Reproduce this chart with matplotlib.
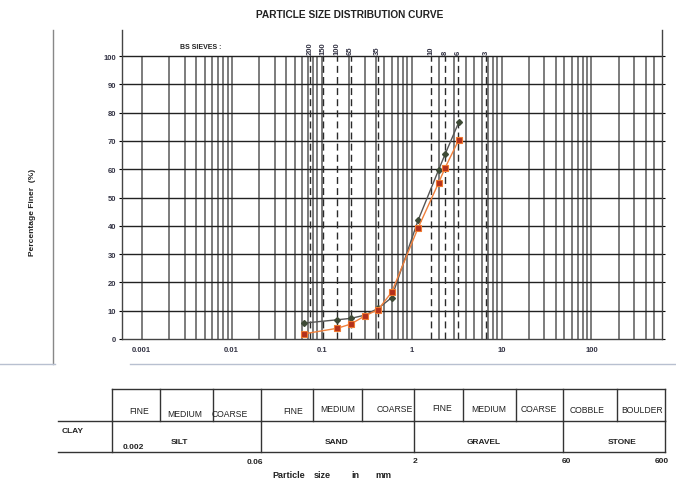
import matplotlib
matplotlib.use('Agg')
import matplotlib.pyplot as plt
import numpy as np

plt.rcParams['font.family'] = ['Liberation Sans', 'DejaVu Sans']

# sieve analysis results (particle size in mm, percentage finer)
sizes_mm = [0.063, 0.15, 0.212, 0.3, 0.425, 0.6, 1.18, 2.0, 2.36, 3.35]
sample_a = [5.6, 6.8, 7.3, 8.4, 10.8, 14.6, 41.9, 59.8, 65.3, 76.6]
sample_b = [1.8, 3.8, 5.3, 8.1, 10.4, 16.5, 39.2, 55.2, 60.5, 70.4]

# BS sieve numbers and their apertures in mm
sieve_labels = ['200', '150', '100', '65', '35', '10', '8', '6', '3']
sieve_mm = [0.075, 0.103, 0.15, 0.21, 0.42, 1.65, 2.36, 3.3, 6.7]

x_tick_values = [0.001, 0.01, 0.1, 1, 10, 100]
x_tick_labels = ['0.001', '0.01', '0.1', '1', '10', '100']
y_tick_values = list(range(0, 101, 10))

# classification table below the chart
top_row = ['FINE', 'MEDIUM', 'COARSE', 'FINE', 'MEDIUM', 'COARSE',
           'FINE', 'MEDIUM', 'COARSE', 'COBBLE', 'BOULDER']
soil_names = ['SILT', 'SAND', 'GRAVEL', 'STONE']
limit_labels = ['0.002', '0.06', '2', '60', '600']

W, H = 676, 481
fig = plt.figure(figsize=(W / 100, H / 100), dpi=100)

# main chart, positions in pixels
ax_l, ax_r, ax_t, ax_b = 121.7, 661.5, 31, 340
ax = fig.add_axes([ax_l / W, 1 - ax_b / H, (ax_r - ax_l) / W, (ax_b - ax_t) / H])
ax.set_xscale('log')
ax.set_xlim(0.0006, 600)
ax.set_ylim(0, 109.2)

# log grid
grid_x = []
for decade in [0.001, 0.01, 0.1, 1, 10, 100]:
    for m in range(1, 10):
        v = decade * m
        if v < 600:
            grid_x.append(v)
ax.vlines(grid_x, 0, 100, color='#666666', lw=1.2, zorder=1)
ax.hlines(y_tick_values[1:], 0.0006, 600, color='#222222', lw=1.0, zorder=1)
ax.vlines(sieve_mm, 0, 100, color='#2a2a2a', lw=1.0, linestyles=(0, (5, 3)), zorder=2)

for lab, v in zip(sieve_labels, sieve_mm):
    ax.text(v, 100.6, lab, rotation=90, ha='center', va='bottom', fontsize=5.5,
            fontweight='bold', color='#333344')
ax.text(0.0045, 103.5, 'BS SIEVES :', ha='center', va='center', fontsize=5,
        fontweight='bold', color='#222222')

ax.plot(sizes_mm, sample_a, color='#555555', lw=1.0, marker='D', ms=3,
        mfc='#3e4a36', mec='#3e4a36', zorder=4)
ax.plot(sizes_mm, sample_b, color='#f0803c', lw=1.0, marker='s', ms=4.2,
        mfc='#b3301c', mec='#f07a30', mew=0.8, zorder=5)

ax.spines['top'].set_visible(False)
for side in ['left', 'right', 'bottom']:
    ax.spines[side].set_color('#444444')
    ax.spines[side].set_linewidth(1.0)

ax.set_xticks(x_tick_values)
ax.set_xticklabels(x_tick_labels)
ax.xaxis.set_minor_locator(matplotlib.ticker.NullLocator())
ax.tick_params(axis='x', length=0, pad=5, labelsize=5.5, labelcolor='#333344')
for t in ax.get_xticklabels():
    t.set_fontweight('bold')
ax.set_yticks(y_tick_values)
ax.tick_params(axis='y', length=2, width=0.8, pad=2, labelsize=5.5,
               labelcolor='#333344', right=True, direction='out')
for t in ax.get_yticklabels():
    t.set_fontweight('bold')

# overlay in pixel coordinates for frame, titles and table
ov = fig.add_axes([0, 0, 1, 1], zorder=-1)
ov.set_xlim(0, W)
ov.set_ylim(H, 0)
ov.axis('off')

ov.text(350, 15, 'PARTICLE SIZE DISTRIBUTION CURVE', ha='center', va='center',
        fontsize=7.3, fontweight='bold', color='#222222')
ov.text(32, 212, 'Percentage Finer  (%)', rotation=90, ha='center', va='center',
        fontsize=6, fontweight='bold', color='#222222')
ov.plot([52.5, 52.5], [31, 365], color='#888888', lw=1.0)
ov.plot([0, 55], [365, 365], color='#b8c0d0', lw=1.0)
ov.plot([130, W], [365, 365], color='#b8c0d0', lw=1.0)

# table
tl, tr = 111.5, 665
y0, y1, y2 = 389.5, 421.7, 452.7
lc = '#333333'
ov.plot([tl, tr], [y0, y0], color=lc, lw=1.0)
ov.plot([58, tr], [y1, y1], color=lc, lw=1.0)
ov.plot([58, tr], [y2, y2], color=lc, lw=1.0)
top_div = [111.5, 160, 212.7, 260.7, 313, 361.7, 414, 462.7, 515.7, 563.3, 616.7, 665]
for xd in top_div:
    ov.plot([xd, xd], [y0, y1], color=lc, lw=1.0)
for xd in [111.5, 260.7, 414, 563.3, 665]:
    ov.plot([xd, xd], [y1, y2], color=lc, lw=1.0)

top_x = [139.3, 185, 230, 292.7, 338, 394.3, 441.7, 488.7, 539, 586.7, 641.7]
top_y = [411.5, 414.5, 414.5, 411.5, 410, 410, 408.5, 410, 410, 410.5, 410.5]
for lab, xx, yy in zip(top_row, top_x, top_y):
    ov.text(xx, yy, lab, ha='center', va='center', fontsize=6.2, color='#222222')

ov.text(73, 431.5, 'CLAY', ha='center', va='center', fontsize=6, fontweight='bold', color='#222222')
for lab, xx in zip(soil_names, [179, 337, 483.3, 621.7]):
    ov.text(xx, 442.3, lab, ha='center', va='center', fontsize=6, fontweight='bold', color='#222222')
for lab, xx, yy in zip(limit_labels, [133.3, 255, 415, 566.7, 662], [447.7, 462.7, 462, 462, 462]):
    ov.text(xx, yy, lab, ha='center', va='center', fontsize=6, fontweight='bold', color='#222222')

for lab, xx in zip(['Particle', 'size', 'in', 'mm'], [289, 322, 355, 383]):
    ov.text(xx, 475.5, lab, ha='center', va='center', fontsize=6.5, fontweight='bold', color='#222222')

fig.savefig('out.png', dpi=100)
